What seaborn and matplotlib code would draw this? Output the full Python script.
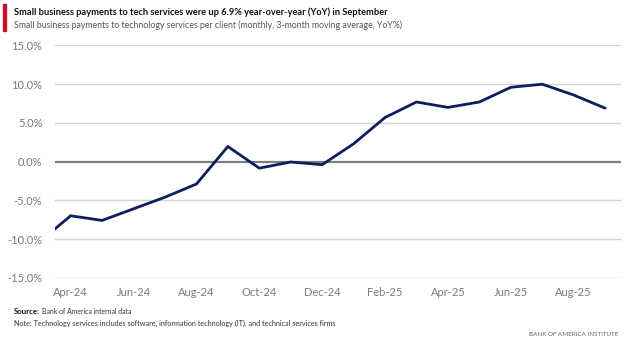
import matplotlib
matplotlib.use("Agg")
import matplotlib.pyplot as plt
from matplotlib import font_manager
import seaborn as sns
import pandas as pd
import numpy as np

months = ["Mar-24", "Apr-24", "May-24", "Jun-24", "Jul-24", "Aug-24", "Sep-24", "Oct-24",
          "Nov-24", "Dec-24", "Jan-25", "Feb-25", "Mar-25", "Apr-25", "May-25", "Jun-25",
          "Jul-25", "Aug-25", "Sep-25"]
yoy = [-10.4, -7.0, -7.6, -6.1, -4.6, -2.9, 1.95, -0.85,
       -0.05, -0.4, 2.3, 5.7, 7.7, 7.0, 7.7, 9.6,
       10.0, 8.6, 6.9]
tick_labels = ["Apr-24", "Jun-24", "Aug-24", "Oct-24", "Dec-24", "Feb-25", "Apr-25", "Jun-25", "Aug-25"]
y_ticks = [-15, -10, -5, 0, 5, 10, 15]

df = pd.DataFrame({"month": months, "yoy": yoy})
df["idx"] = np.arange(len(df))

sns.set_theme(style="white")
names = {f.name for f in font_manager.fontManager.ttflist}
narrow = "Liberation Sans Narrow" if "Liberation Sans Narrow" in names else None
plt.rcParams["font.family"] = ["Lato", "DejaVu Sans"]
text_family = [narrow, "DejaVu Sans"] if narrow else ["Lato", "DejaVu Sans"]
scale = 1.0 if narrow else 0.85

fig = plt.figure(figsize=(6.24, 3.42), dpi=100)
ax = fig.add_axes([0.088, 0.188, 0.907, 0.679])

for v in y_ticks:
    if v == 0:
        ax.axhline(v, color="#7f7f7f", lw=1.6, zorder=1)
    else:
        ax.axhline(v, color="#d4d4d4", lw=1.0, zorder=1)

sns.lineplot(data=df, x="idx", y="yoy", ax=ax, color="#0b1f5e", lw=2.0, zorder=3)

ax.set_xlim(0.5, len(df) - 0.5)
ax.set_ylim(-15, 15)
ax.set_yticks(y_ticks)
ax.set_yticklabels([f"{v:.1f}%" for v in y_ticks])
pos = [months.index(t) for t in tick_labels]
ax.set_xticks(pos)
ax.set_xticklabels(tick_labels)
ax.tick_params(axis="both", length=0, labelsize=8, colors="#7a7a7a")
ax.tick_params(axis="y", pad=9)
ax.tick_params(axis="x", pad=7)
ax.set_xlabel("")
ax.set_ylabel("")
for s in ax.spines.values():
    s.set_visible(False)


def fit_text(x, y, s, target_w, size, **kw):
    t = fig.text(x, y, s, fontsize=size, family=text_family, **kw)
    fig.canvas.draw()
    w = t.get_window_extent().width
    t.set_fontsize(size * target_w / w)
    return t


# Title block
fig.patches.append(plt.Rectangle((3 / 624, 1 - 31 / 342), 3 / 624, 27 / 342,
                                 transform=fig.transFigure, color="#c8102e"))
fit_text(14 / 624, 1 - 12 / 342, "Small business payments to tech services were up 6.9% year-over-year (YoY) in September",
         374, 9, fontweight="bold", color="#111111", va="center", ha="left")
fit_text(14 / 624, 1 - 25 / 342, "Small business payments to technology services per client (monthly, 3-month moving average, YoY%)",
         388, 8.5, color="#555555", va="center", ha="left")

# Footer
t = fit_text(14 / 624, 1 - 312 / 342, "Source:", 26, 6, fontweight="bold", color="#111111",
             va="center", ha="left")
fig.canvas.draw()
bb = t.get_window_extent()
fit_text(bb.x1 / fig.bbox.width + 2 / 624, 1 - 312 / 342, "Bank of America internal data", 90, 6,
         color="#333333", va="center", ha="left")
fit_text(14 / 624, 1 - 323 / 342,
         "Note: Technology services includes software, information technology (IT), and technical services firms",
         326, 6, color="#333333", va="center", ha="left")
fit_text(618 / 624, 1 - 334 / 342, "BANK OF AMERICA INSTITUTE", 89, 6, color="#666666",
         va="center", ha="right")

fig.savefig("out.png", dpi=100)
